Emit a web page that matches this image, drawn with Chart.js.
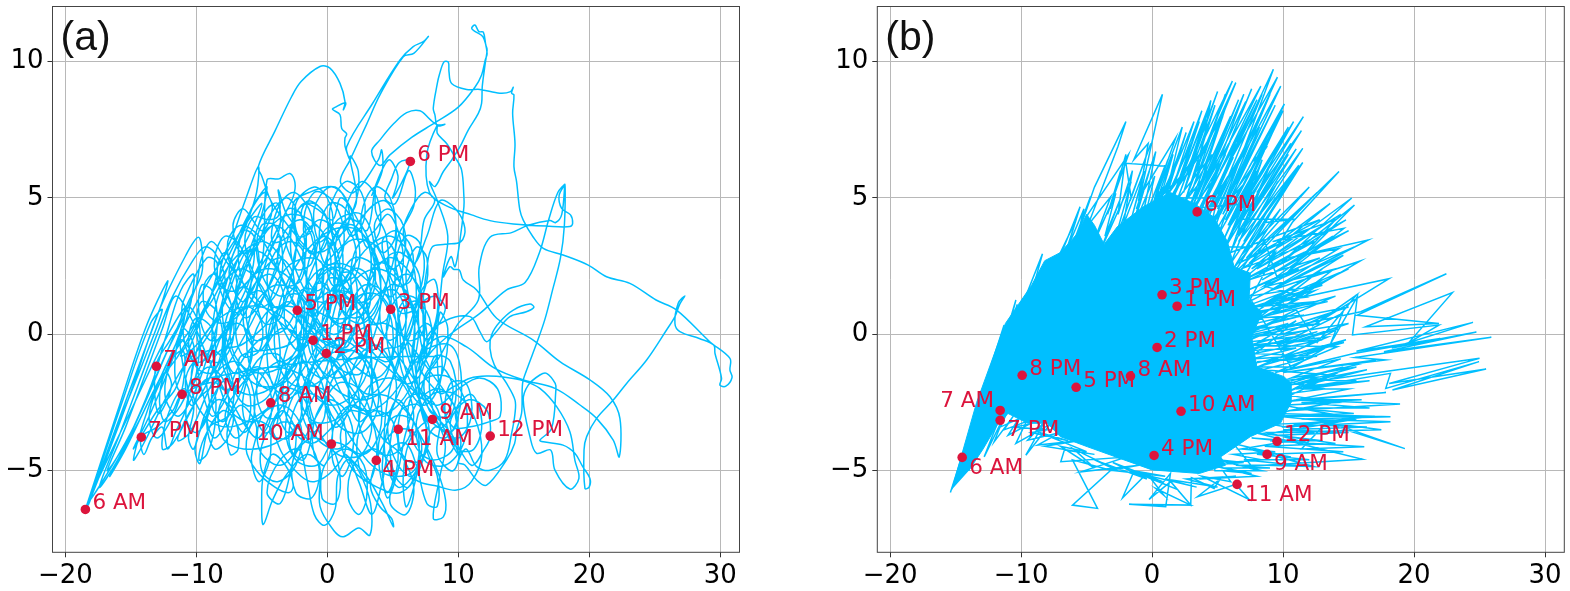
<!DOCTYPE html>
<html>
<head>
<meta charset="utf-8">
<title>Daily trajectories</title>
<script src="https://cdn.jsdelivr.net/npm/chart.js@4/dist/chart.umd.min.js"></script>
<style>
body { margin: 0; background: #fff; width: 1570px; height: 591px; overflow: hidden; }
canvas { position: absolute; top: 0; }
#panelA { left: 0; }
#panelB { left: 785px; }
</style>
</head>
<body>
<canvas id="panelA" width="785" height="591"></canvas>
<canvas id="panelB" width="785" height="591"></canvas>
<script>
const xTicks = [-20, -10, 0, 10, 20, 30];
const yTicks = [-5, 0, 5, 10];

const hoursA = ['6 AM','7 AM','8 AM','9 AM','10 AM','11 AM','12 PM','1 PM','2 PM','3 PM','4 PM','5 PM','6 PM','7 PM','8 PM'];
const hoursAx = [-18.47,-13.05,-4.32,8.02,0.31,5.42,12.44,-1.09,-0.08,4.84,3.74,-2.29,6.34,-14.2,-11.09];
const hoursAy = [-6.42,-1.17,-2.51,-3.12,-4.02,-3.48,-3.73,-0.22,-0.7,0.92,-4.62,0.88,6.34,-3.77,-2.2];

const hoursB = ['6 AM','7 AM','8 AM','9 AM','10 AM','11 AM','12 PM','1 PM','2 PM','3 PM','4 PM','5 PM','6 PM','7 PM','8 PM'];
const hoursBx = [-14.5,-11.6,-1.65,8.78,2.21,6.49,9.54,1.91,0.38,0.76,0.15,-5.8,3.44,-11.6,-9.92];
const hoursBy = [-4.51,-2.79,-1.53,-4.4,-2.82,-5.5,-3.92,1.03,-0.48,1.45,-4.44,-1.94,4.49,-3.15,-1.5];

// panel (a)
const fanA = [[-18.47,-6.42],[-16,-2.8],[-13.9,.2],[-12.2,1.95],[-12.6,1.2],[-14.2,-.9],[-16.5,-3.9],[-18.2,-6.2],[-15.6,-2.4],[-13.5,.4],[-12.6,.9],[-13.8,-.7],[-16.2,-3.6],[-18.3,-6.3],[-15.2,-2.4],[-12.9,.8],[-10.8,2.9],[-9.85,3.56],[-9.55,3],[-9.6,2.2],[-10.6,1.2],[-12.2,-.6],[-15,-3.6],[-18.2,-6.1],[-14.8,-2.6],[-12.6,-.4],[-10.8,1],[-11.6,-.4],[-13.6,-2.4],[-15.4,-4.2],[-16.6,-5.2],[-14.4,-3.2],[-12.4,-1.4],[-11.9,-1.9],[-12.9,-2.9],[-13.1,-1.17],[-12,-.2],[-11.2,.5]];
const coreA1 = [[-11,1.2],[-9.2,2.8],[-8.4,2.6],[-8.9,1.4],[-10.4,-.1],[-11.2,-.8],[-10,-.4],[-8,1],[-6.4,2.9],[-5.6,3.1],[-6,1.9],[-7.8,.2],[-9.5,-1],[-10.2,-1.9],[-9,-1.6],[-7,.1],[-5.2,1.9],[-4.2,3.3],[-3.6,3.6],[-4,2.4],[-5.4,.8],[-7.2,-.8],[-8.6,-1.8],[-9.9,-2.4],[-11,-3.3],[-11.4,-3.9],[-10.5,-3.6],[-9.3,-2.3],[-8,-.9],[-7.2,.8],[-8.2,2.2],[-7,3.9],[-6.2,5],[-5.27,6.15],[-5.4,5.2],[-6.2,4],[-7.5,2.3],[-6.4,1.2],[-5,2.6],[-4.6,5.66],[-3.7,5.7],[-2.85,5.9],[-2.47,5.56],[-2.6,5.05],[-3.36,4.3],[-4.5,3.2],[-5.8,1.9],[-6.4,.4],[-5.2,-.6],[-3.8,.6],[-2.6,2.4],[-2.4,3.8],[-3.2,4.5],[-3.74,5.29],[-3.6,4.7],[-3.8,4.3],[-4.5,4.2],[-5.6,4.3],[-6.3,3.4],[-5.4,2],[-3.6,.4],[-2.2,-.6],[-1.2,.4],[-.8,2.2],[-1.2,3.6],[-2,4.4],[-1.4,4.9],[-.2,4.4],[.6,3],[.4,1.4],[-.8,.1],[-2.6,-.9],[-4.6,-1.4],[-6.4,-1.2],[-7.4,-.2],[-7,1.4],[-5.6,3.2],[-4,4],[-2.4,3.2],[-1.4,1.6],[-1.8,-.2],[-3.4,-1.6],[-5.4,-2.2],[-7,-2],[-8,-1],[-7.4,.6],[-6.2,2.4]];
const coreA2 = [[-4.6,3.8],[-2.8,4.4],[-.8,4],[.8,2.6],[1.4,.8],[.8,-.8],[-.8,-1.8],[-2.8,-1.8],[-4,-.6],[-3.6,1.2],[-2,2.8],[.2,3.8],[2.4,3.8],[3.8,2.6],[4,.8],[2.8,-.8],[.8,-1.6],[-1,-1],[-1.6,.6],[-.4,2.4],[1.4,3.4],[3.2,4.6],[4.4,4.9],[5.2,4.2],[5,2.6],[3.6,1],[1.8,.2],[.2,.6],[-.4,2],[.6,3.6],[2.2,4.8],[1.73,6.52],[2.37,5.97],[2.2,4.9],[1,3.6],[-.6,3],[-2.2,3.4],[-2.6,4.8],[-1.4,5.2],[.6,5.4],[1.6,4.8],[3,3.8],[3.64,5.29],[3.7,4.5],[4.5,3.6],[4.6,2],[3.4,.4],[1.4,-1],[-.4,-1.6],[-2,-.8],[-2.29,.88],[-1,2.2],[1,2.6],[3,2],[4.84,.92],[5.6,-.4],[4.8,-1.8],[2.8,-2.4],[.6,-2],[-1,-.8],[-1.09,-.22],[-.08,-.7],[1.2,-1.6],[2.6,-2.8],[3.4,-1.4],[2.8,.4],[1.2,1.4],[-.6,1],[-1.8,-.6],[-2.2,-2.2],[-1,-3.2],[1,-3],[2.6,-1.6],[3.2,.6],[2,2.2],[0,2.4],[-1.6,1.2],[-3,-.4],[-4.32,-2.51],[-5.8,-3.2],[-7.4,-2.8],[-8.4,-1.6],[-8.8,0],[-8,1.8],[-6.4,2.4],[-4.6,1.4],[-3.6,-.6],[-4.4,-2.2],[-6.2,-2.6],[-7.6,-1.4],[-7.8,.4]];
const coreA3 = [[-6.6,1.6],[-4.8,2.4],[-2.8,2],[-1.8,.4],[-2.6,-1.4],[-4.6,-2],[-6,-1],[-5.8,.8],[-4,1.8],[-2,1.4],[-.8,-.2],[-1.6,-1.8],[-3.4,-2.6],[-4.4,-3.6],[-3,-3.8],[-1.6,-2.8],[-.2,-1.4],[1,.2],[2.4,1.4],[4,1.4],[5,.2],[4.6,-1.4],[3.2,-2.2],[1.6,-1.4],[.8,.4],[1.8,1.8],[3.6,2.4],[5.4,2],[6.6,.6],[6.4,-1],[5,-2.2],[3.2,-2.8],[1.4,-2.4],[.2,-.8],[.6,1],[2.4,2.8],[4.6,3.6],[6.2,3],[6.8,1.4],[6,-.4],[4.4,-1],[3,-.2],[3,1.6],[4.6,2.8],[6.4,2.2],[7.4,.6],[7,-1.2],[5.4,-2.6],[3.6,-3],[1.8,-2.8],[.4,-3.4],[-1.2,-4],[-2.8,-3.4],[-3.4,-2],[-2.4,-.6],[-.6,-.2],[1.2,-.8],[2.4,-2.2],[2.2,-3.6],[.8,-4.2],[-.8,-3.8],[-1.6,-2.4],[-.8,-.8],[1,-.2],[2.8,-.8],[4,-2.2],[4,-3.6],[2.8,-4.4],[1,-4],[.31,-4.02],[-.8,-4.8],[-2.4,-4.6],[-3.2,-3.4],[-2.2,-2],[-.4,-2],[1,-2.8],[1.4,-4.2],[.4,-5],[-1,-5.4],[-2,-5.2],[-3.4,-4.4],[-4.4,-3.4],[-5.6,-3.2],[-6.2,-4.2],[-5.4,-5],[-4,-5.6],[-2.9,-5.8],[-2.6,-5.5],[-3.2,-4.8],[-4.2,-4.4],[-4.89,-5.2],[-5.01,-6.2],[-4.89,-6.97],[-4.2,-6.1],[-3.2,-5.2],[-1.6,-4.4],[-.6,-4.8],[-.56,-6.3],[.46,-7.17],[1.22,-7.42],[2.4,-7.1],[3.25,-7.36],[3.3,-6.2],[2.4,-5],[1.4,-4.4]];
const coreA4 = [[3,-5.2],[4.2,-6.2],[5.04,-7.05],[4.91,-6.75],[4.02,-6.32],[3.3,-5.6],[3.74,-4.62],[4.6,-3.8],[5.42,-3.48],[6.6,-3.6],[7,-4.6],[6.06,-6.32],[5.8,-5.2],[6.4,-3.8],[8.02,-3.12],[9,-4],[8.6,-5.2],[8.09,-6.75],[8.86,-6.69],[9.03,-6.08],[8.4,-5],[7,-3.6],[5.4,-2.4],[4.6,-3.4],[5.4,-4.8],[7,-5.4],[8.35,-5.56],[9.87,-5.71],[11,-5.4],[11.8,-4.4],[11.2,-3],[9.8,-2.2],[8,-2.2],[6.8,-3.2],[7.4,-4.6],[9,-4.8],[10.4,-4],[10.6,-2.6],[9.4,-1.6],[7.6,-1.6],[6.2,-2.6],[6.6,-4],[8,-4.6],[9.6,-4.2],[9.8,-2.8],[8.6,-2],[7,-2.4],[6,-3.6],[5.4,-5],[4.6,-6],[4.2,-4.8],[4.8,-3],[6,-1.6],[7.4,-.6],[9.4,-.4],[10.2,-1.4],[10,-3],[9,-3.8],[7.6,-3.4],[7,-2],[7.6,-.4],[9,.9],[8.2,1.4],[7,1],[6.6,-.4],[7,-2.2],[7.6,-3.8],[6.8,-5],[5.4,-5.6],[4.4,-4.4],[4.6,-2.4],[5.6,-.6],[6.6,.8],[7.4,2.4],[7,3.4],[6,3.6],[5.2,2.6],[5.4,.8],[6.4,-1.2],[7.6,-2.6],[9.4,-3.6],[11,-4.8],[12,-4.2],[12.44,-3.73],[12.2,-2.8],[10.8,-2.4],[9.4,-3.2],[10,-4.4],[8.4,-3],[6,-1.2],[3,.8],[.4,2.2],[-2,3.4],[-4.2,4.8],[-5,5.8]];
const peakA = [[-5.27,6.15],[-4,7.45],[-2.72,8.72],[-2,9.27],[-.56,9.82],[.2,9.76],[.97,9.2],[1.35,8.53],[1.22,8.23],[1.4,8.49],[.58,8.32],[.4,8.25],[.97,8.05],[1.1,7.55],[1.48,7.35],[1.35,7.2],[1.35,6.9],[1.73,6.39],[1.48,6.88],[3.5,8.5],[5.55,10.06],[6.56,10.55],[7.33,10.73],[7.71,10.92],[6.6,10.3],[5.8,10.18],[4.02,8.78],[3,7.7],[1.73,6.39],[1,5.6],[2,5.2],[3.9,6.4],[4.15,6.76],[4.2,6],[3.4,5.1],[4.66,6.39],[5.4,5.8],[5,5],[6.34,6.34]];
const rightA1 = [[5.5,6.3],[4.9,5.7],[4.4,5],[5.2,4.8],[6.2,6],[6.7,5.4],[6.6,4.7],[6.1,4.2],[5.4,3.6],[5.2,2.6],[5.8,1.8],[7,3],[7.4,4.2],[8.2,4.9],[7.4,5.2],[6.4,4.6],[5.8,3.7],[6.6,2.6],[7.6,3.6],[8.6,4.9],[9.8,4.6],[10.5,3.9],[10.2,3.4],[9,3.3],[8,3.2],[7.6,2.4],[7.3,1],[7.6,-.8],[8.4,.6],[8.8,2.2],[9.2,3.6],[8.4,4.9],[7.8,5.6],[8.22,5.42],[8.86,5.97],[9.49,6.39],[10.13,6.88],[10.76,7.49],[11.53,8.1],[11.78,8.47],[11.83,9.08],[12.06,9.94],[12.2,10.43],[12.1,10.61],[11.91,11.08],[11.58,11.1],[11.27,11.34],[11.02,11.22],[11.3,11.1],[11.9,10.9],[12.2,10.3],[12.06,10.06],[11.78,9.51],[11.27,9.06],[10,8.33],[8.22,7.76],[6.44,7.22],[4.78,6.58],[4.02,6.19],[3.38,6.7],[4.02,7.13],[5.04,7.71],[6.06,8.13],[7.07,8.2],[7.84,7.88],[8.4,7.68],[8.98,7.7],[8.4,7.65],[8.22,8.04],[8.09,8.29],[8.4,9.2],[8.55,9.51],[8.91,9.99],[9.24,9.98],[9.29,9.63],[9.49,9.2],[10.64,8.98],[11.65,8.98],[13.18,8.84],[13.99,8.9],[14.2,9.06],[14.07,8.84],[14.25,8.78],[14.15,8.1],[14.33,7],[14.25,6.15],[14.45,5.6],[14.7,4.56],[14.96,4.19],[15.7,3.58],[16.49,3.15],[18,2.91],[19.92,2.54],[21.32,2.11],[23.1,1.87],[25.1,1.26],[26.67,.89],[29.2,-.27],[30.74,-.88],[30.74,-1.31],[30.9,-1.58],[30.43,-1.9],[29.97,-1.86],[30.1,-1.61],[29.6,-.7],[29.5,-.39],[28.4,-.15],[26.92,.1],[26.54,.4],[26.79,1.14],[27.3,1.41],[26.9,1.1],[26.54,.65],[25.9,.16],[24.38,-.94],[22.85,-1.8],[21.83,-2.41],[20.56,-3.08],[19.8,-3.75],[19.6,-4.24],[19.67,-5.65],[20,-5.59],[20.05,-5.28],[19.5,-4.85],[18.9,-4.36],[18,-4.06],[16.49,-3.94],[16.23,-3.88],[17.12,-3.45],[17.45,-2.04],[17.4,-1.8],[16.74,-1.43],[16.23,-1.49],[15.34,-1.86],[14.96,-2.41],[15.47,-3.75],[15.98,-4.36],[17.05,-4.24],[17.38,-4.98],[18.52,-5.67],[19.21,-5.28],[18.9,-4.61],[18.52,-3.57],[17.51,-2.65],[16.23,-1.98],[14.96,-1.7],[13.69,-1.58],[12.16,-1.53],[10.9,-1.61],[9.62,-1.92],[8.6,-2.16]];
const rightA2 = [[7,-1],[8.6,-.09],[10.6,-.45],[12.8,-1.25],[14.96,-1.67],[17.38,-1.98],[19.29,-2.59],[20.56,-3.08],[21.83,-3.88],[22.29,-4.49],[22.34,-3.08],[21.58,-2.29],[20.05,-1.67],[17.76,-1],[15.72,-.21],[12.93,.59],[11.4,1.63],[10.38,1.99],[10.08,2.36],[9.67,2.38],[9.36,2.48],[8.86,2.11],[9.44,2.85],[9.75,2.48],[10.13,3.46],[10.43,4.68],[10.43,5.05],[10.25,6.03],[9.75,6.5],[9.11,7],[8.4,7.37],[8.4,7.68],[7.6,6.6],[7.8,5.2],[9.1,4.71],[11.02,4.38],[12.42,4.17],[14.2,4.05],[16.74,3.97],[18.52,3.95],[18.73,4.07],[18.57,4.38],[17.89,4.62],[17.7,5.1],[18.14,5.5],[17.6,5.2],[16.9,4.2],[16.2,3],[15.1,1.9],[13.69,1.63],[11.65,.77],[9.49,.04],[8,-.6],[6.8,-1.4],[7.6,-.1],[9,.5],[10.9,.65],[11.65,.1],[12.16,-.27],[12.8,.04],[13.94,.65],[15.2,.83],[15.77,.99],[15.47,1.11],[14.2,.89],[13.18,.46],[12.54,-.02],[12.42,-.51],[12.75,-1.12],[13.69,-1.8],[14.33,-2.41],[14.33,-2.9],[14.07,-3.63],[13.56,-4.6],[12.42,-4.98],[11.4,-4.85],[10.6,-4.2],[10,-4.7],[10.5,-4.79],[11.4,-5.34],[12.16,-5.53],[13.69,-4.6],[14.3,-4],[14.45,-3.5],[14.83,-2.9],[14.91,-1.8],[15.22,-1.31],[15.98,-.33],[16.6,.53],[17.2,1.63],[17.8,2.8],[18.1,4],[18.14,5.5],[17.9,4.4],[17.43,4.1],[16.99,4.17],[15.34,4],[14.07,3.73],[12.42,3.56],[11.6,2.48],[11.53,1.26],[10,.4],[8.6,-.8],[7.2,-2],[8.4,-2.6],[10,-2],[11.6,-1.6],[13,-2],[13.2,-3],[12.4,-3.2],[10.8,-3.4],[9.6,-3.4],[8.8,-2.6],[8.4,-1],[8.6,.8],[9.2,.2],[8.8,-1.4]];
const tailA = [[7.4,-2.4],[5.8,-1],[6,.6],[5.2,1.6],[3.6,1.4],[1.8,0],[.4,-1],[-1,-.4],[-2.4,.6],[-4,1],[-5.4,.2],[-6.2,-1.6],[-7.6,-3],[-9,-3.4],[-9.72,-4.73],[-10.1,-4.24],[-9.6,-3.4],[-8.4,-2.4],[-7.2,-2.8],[-7.6,-3.8],[-8.6,-4.2],[-9.2,-3.2],[-8.4,-1.8],[-11.09,-2.2],[-11.8,-2.8],[-13,-3.4],[-14.2,-3.77],[-14,-4.4],[-13.4,-3.8],[-12.6,-3.4],[-12.2,-4.2],[-11.6,-3.6],[-10.6,-2.4],[-11,-1.2],[-11.2,-.2],[-10.2,-.8],[-9.6,-2],[-8.8,-3],[-7.8,-2.4],[-6.8,-1.2],[-5.2,-.2],[-3.2,.2],[-1.8,1.6],[-.6,3],[.8,4.2],[2.6,4.4],[3.6,3.2],[3.2,1.4],[1.4,.6],[-.6,.8],[-2.4,1.8],[-3.8,3],[-5,3.4],[-6.8,2.8],[-8,1.2],[-7.4,-.6],[-5.6,-1.8],[-3.6,-1.8],[-2,-.6],[-.6,.8],[1,1.6],[2.8,1],[3.4,-.6],[2.4,-2],[.4,-2.6],[-1.4,-2],[-2.2,-.6],[-1.2,1],[.8,1.6],[2.8,.4],[2.6,-1.4],[.8,-1.2],[-.4,.2],[.6,1.8],[2.2,1.2],[1.6,-.4],[0,-.4]];
const denseA1 = [[-1.6,.4],[-3,1.6],[-4.2,2.8],[-5.2,3.6],[-6.6,4],[-7.6,3.4],[-7.2,2.4],[-6,2.6],[-5.4,3.8],[-4.6,4.6],[-3.8,4.8],[-3.6,4],[-4.4,3],[-5.6,2.2],[-7,1.6],[-8.2,1.8],[-8.6,2.8],[-7.8,3.6],[-6.6,3.2],[-5.8,2],[-6.6,.8],[-8,.4],[-9.2,.8],[-9.4,1.8],[-8.6,2.2],[-7.4,1.2],[-7.2,-.2],[-8.2,-1],[-9.4,-.8],[-10,.2],[-9.6,1.2],[-8.4,.8],[-8,-.4],[-8.8,-1.4],[-10,-1.2],[-10.6,-.2],[-10,.6],[-8.8,.2],[-8.6,-1],[-9.4,-2],[-10.4,-2.6],[-10.8,-1.6],[-9.8,-.8],[-8.6,-.6],[-7.4,-1.4],[-7.2,-2.6],[-8,-3.2],[-8.8,-2.6],[-8.4,-1.4],[-7,-1],[-5.8,-1.8],[-5.6,-3],[-6.4,-3.6],[-7.2,-2.8],[-6.6,-1.6],[-5.2,-1.2],[-4,-2],[-3.8,-3.2],[-4.8,-3.6],[-5.6,-2.6],[-4.8,-1.4],[-3.4,-1],[-2.2,-1.8],[-2,-3],[-3,-3.6],[-3.8,-2.6],[-3,-1.4],[-1.6,-1],[-.4,-1.8],[-.2,-3],[-1.2,-3.6],[-2,-2.6],[-1.2,-1.2],[.2,-.8],[1.4,-1.6],[1.6,-2.8],[.6,-3.4],[-.2,-2.4],[.6,-1],[2,-.6],[3.2,-1.4],[3.4,-2.6],[2.4,-3.2],[1.6,-2.2],[2.4,-.8],[3.8,-.4],[5,-1.2],[5.2,-2.4],[4.2,-3],[3.4,-2],[4.2,-.6],[5.6,-.4]];
const denseA2 = [[6.6,.6],[6,1.6],[4.8,1.8],[4,.8],[4.6,-.2],[5.8,.2],[6,1.2],[5,2.4],[3.8,2.6],[3,1.6],[3.4,.4],[4.6,.6],[4.8,1.8],[3.8,3.2],[2.6,3.4],[1.8,2.4],[2.2,1.2],[3.4,1.4],[3.6,2.6],[2.6,4],[1.4,4.2],[.6,3.2],[1,2],[2.2,2.2],[2.4,3.4],[1.4,4.6],[.2,4.8],[-.6,3.8],[-.2,2.6],[1,2.8],[1.2,4],[.2,5],[-1,5.2],[-1.8,4.2],[-1.4,3],[-.2,3.2],[0,4.2],[-1,4.8],[-2.2,4.6],[-2.8,3.6],[-2.4,2.4],[-1.2,2.6],[-1,3.6],[-2,4.2],[-3.2,3.8],[-3.8,2.8],[-3.2,1.8],[-2,2],[-1.8,3],[-2.8,3.4],[-4,3],[-4.6,2],[-4,1],[-2.8,1.2],[-2.6,2.2],[-3.6,2.8],[-4.8,2.4],[-5.4,1.4],[-4.8,.4],[-3.6,.6],[-3.4,1.6],[-4.4,2.2],[-5.6,1.8],[-6.2,.8],[-5.6,-.2],[-4.4,0],[-4.2,1],[-5.2,1.6],[-6.4,1.2],[-7,.2],[-6.4,-.8],[-5.2,-.6],[-5,.4],[-6,1],[-7.2,.6],[-7.8,-.4],[-7.2,-1.4],[-6,-1.2],[-5.8,-.2],[-6.8,.4],[-8,0],[-8.6,-1],[-8,-2],[-6.8,-1.8],[-6.6,-.8],[-3,-.4],[-1.8,.4],[-2,1.4],[-3,1.4],[-3.2,.4],[-2,-.2],[-.8,.6],[-1,1.6],[-2,1.6],[-2.2,.6],[-1,0],[.2,.8],[0,1.8],[-1,1.8],[-1.2,.8],[0,.2],[1.2,1],[1,2],[0,2],[-.2,1],[1,.4],[2.2,1.2],[2,2.2],[1,2.2],[.8,1.2],[2,.6],[3.2,1],[3,2.2],[2,2.4]];
const denseA3 = [[.6,1.4],[-1,-.6],[-3,-2],[-5.4,-3],[-7.6,-3.4],[-9.4,-3],[-10.4,-1.8],[-9.6,-.2],[-7.6,.8],[-5,1],[-2.6,.2],[-1.4,-1.6],[-2,-3.2],[-4,-4],[-6.4,-4.2],[-8,-3.8],[-8.2,-2.6],[-6.6,-1.6],[-4,-1.2],[-1.6,-1.6],[.4,-2.6],[1.8,-3.8],[3.4,-4.8],[5,-5.2],[6.6,-5],[7.2,-4],[6,-2.8],[4,-2.2],[2,-2.6],[1,-3.8],[2,-5],[3.8,-5.6],[5.6,-5.8],[7,-5],[7.6,-3.6],[6.8,-2.2],[4.8,-1.6],[3,-2],[2.4,-3.2],[3.4,-4.2],[5,-4.4],[6.4,-3.6],[6.4,-2.4],[5,-1.4],[3,-.8],[1,-1.2],[0,-2.4],[1,-3.4],[2.6,-3.6],[3.8,-2.8],[3.6,-1.4],[2,-.6],[0,-.8],[-1.4,-2],[-.8,-3.4],[.8,-4.4],[2.6,-4.4],[3.4,-3.2],[2.4,-2],[.8,-1.8],[-.6,-2.8],[-2,-4],[-3.6,-4.8],[-5.2,-4.2],[-5,-3],[-3.4,-2.6],[-2,-3.4],[-2.4,-4.8],[-3.8,-5.4],[-5,-5],[-4.8,-3.8],[-3.2,-3.2],[-1.6,-3.8],[-.6,-5],[-1.2,-6],[-2.4,-5.8],[-2.6,-4.6],[-1.2,-3.8],[.4,-4.2],[1,-5.4],[.6,-6.2],[-.4,-6],[-.2,-4.8],[1.4,-4.2],[2.8,-4.8],[3,-6],[2.4,-6.6],[1.6,-6],[2,-4.8],[3.6,-4.2],[5,-5],[4.8,-6.2],[6,-6.6],[6.6,-5.6],[5.6,-4.4],[4.2,-3.8],[3,-2.8]];
const denseA4 = [[-.4,-.6],[-3,.2],[-5.6,1.4],[-7.6,2.6],[-8.8,3.4],[-9.6,2.8],[-10,1.8],[-11,.6],[-12.4,-.8],[-14.2,-2.8],[-16,-4.6],[-17.4,-5.6],[-15.8,-3.6],[-14.4,-1.8],[-13,0],[-11.8,1.4],[-10.4,2.6],[-9.4,3.2],[-8.6,3],[-7.8,2],[-8.4,.6],[-9.6,-.4],[-11,-1.2],[-12.4,-2.4],[-13.8,-3.8],[-14.8,-4.6],[-13.6,-2.6],[-12,-.8],[-10.6,.6],[-9,2],[-7.4,3.2],[-6,4.2],[-5,4.8],[-5.6,4],[-6.8,2.8],[-8,1],[-9,-.6],[-10.2,-2.2],[-11.4,-3],[-12.4,-2.2],[-11.8,-.8],[-10.4,.2],[-8.6,1.4],[-6.8,3.4],[-5.8,4.6],[-5,5.2],[-4.6,5.4],[-5,4.4],[-6,3],[-7,1.6],[-6.2,.6],[-4.4,1.8],[-3.2,3.2],[-2.6,4.2],[-1.8,4.8],[-.8,4.6],[.4,4.2],[1,5],[1.8,4.6],[2.4,3.4],[3.6,3.8],[4.6,4.4],[5.4,3.8],[5.8,2.6],[5,1.4],[3.8,1.8],[3.4,3],[4.6,3.4],[5.6,2.4],[6.2,1],[7.4,1.6],[7.6,2.8],[6.8,3.2],[6,2.2],[6.6,.8],[7.6,-.2],[8.4,.8],[8.2,2],[7.2,1.6],[7,.2],[7.8,-1.2],[8.8,-1.2],[9.6,-2],[9,-3],[7.8,-2.8],[7.4,-1.6],[8.2,-.8]];
const denseA5 = [[-9,-1.6],[-10.4,-2.8],[-11.8,-4],[-12.6,-4.2],[-12.2,-3],[-11,-2],[-10.2,-2.6],[-10.6,-3.8],[-10.2,-4.2],[-9.4,-3],[-8.6,-2.2],[-8.6,-3.4],[-9.2,-4.4],[-9.8,-4.6],[-9.4,-3.8],[-8,-2.8],[-7,-3.2],[-6.8,-4.2],[-7.4,-4.4],[-7.6,-3.4],[-6.6,-2.6],[-5.4,-3.4],[-5.8,-4.6],[-5.2,-5.4],[-4.4,-4.6],[-4.2,-3.4],[-3.4,-2.8],[-2.4,-3.6],[-2.8,-5],[-3.6,-6.2],[-4.6,-5.8],[-3.6,-4.6],[-2.2,-4.2],[-1.6,-5.2],[-1,-6.6],[-.2,-7],[.6,-6.4],[.8,-5.2],[1.6,-4.6],[2.4,-5.4],[3.4,-6.6],[4.2,-5.4],[4.8,-4.2],[6,-4],[6.8,-4.8],[7.6,-6.2],[8.4,-6.3],[8.4,-5.2],[7.6,-4.2],[8.2,-3.4],[9.4,-3.6],[10,-3],[9.4,-2.4]];
const denseA6 = [[7.6,-1.2],[6,-.2],[4.4,.4],[2.6,.2],[1,-.4],[-.4,0],[-1.2,1],[-.6,2],[.6,2.4],[1.8,1.6],[1.6,.4],[.4,0],[-.8,.6],[-1.6,1.8],[-1.2,3],[-.2,3.6],[.8,3],[.8,1.8],[-.2,1.2],[-1.4,1.4],[-2.6,2.6],[-3.4,3.8],[-3,4.6],[-2,4.4],[-1.6,3.2],[-2.2,2],[-3.4,1.4],[-4.6,1.8],[-5.4,3],[-5,4],[-4,4],[-3.4,2.8],[-3.8,1.6],[-5,1],[-6.2,1.6],[-6.8,2.8],[-6.4,3.8],[-5.6,3.6],[-5.2,2.4],[-5.8,1.2],[-7,.8],[-8,1.4],[-8.4,2.4],[-7.8,3],[-7,2.2],[-7,1],[-7.8,0],[-9,-.2],[-9.8,.8],[-9.6,1.8],[-8.8,1.6],[-8.4,.4],[-9,-.8],[-10.2,-1],[-11,0],[-10.6,1],[-9.8,.4],[-9.8,-.8],[-10.4,-2],[-11.4,-2],[-11.6,-.8],[-11,.2],[-10.2,-.4],[-10.4,-1.6],[-11.2,-2.6],[-12.4,-3.2],[-12.8,-2.2],[-12,-1],[-11,-.6],[-11,-1.8],[-11.8,-3],[-13,-3.8],[-13.6,-3],[-12.6,-1.6],[-11.4,-.8],[-9.8,.6],[-8.2,2],[-6.6,3],[-5,3],[-3.6,2.2],[-2.4,1],[-1,.2],[.6,-.4],[2.2,-1.2],[3.8,-1.6],[5,-.8],[5.2,.6],[4.2,1.6],[2.8,1.8],[1.8,1],[2,-.2],[3.4,-.6],[4.6,.2],[4.6,1.6],[3.4,2.6],[2,2.8],[1,2],[1.2,.8],[2.6,.4],[3.8,1],[4,2.4],[3,3.4],[1.6,3.4],[.6,2.6],[.8,1.4],[2.2,1.2],[3.2,2],[3.2,3.2],[2,4],[.8,3.8],[0,2.8],[.4,1.8],[1.6,2],[2.2,3],[1.4,4],[.2,4],[-.8,3.2],[-.6,2],[.4,1.6],[1.2,2.6],[.6,3.8],[-.6,4.2],[-1.6,3.6],[-1.8,2.4],[-.8,1.6],[.2,2.2],[0,3.4],[-1,4],[-2.2,3.4],[-2.6,2.2],[-1.8,1.2],[-.6,1.4],[-.4,2.6]];
const denseA7 = [[-1.6,2.8],[-3.2,2.4],[-4.4,1.2],[-4.6,-.2],[-3.6,-1],[-2.4,-.6],[-2,.6],[-3,1.2],[-4.2,.6],[-4.6,-.8],[-4,-2],[-2.8,-2.2],[-2,-1.2],[-2.4,0],[-3.6,.2],[-4.8,-.6],[-5.4,-2],[-4.8,-3],[-3.6,-3],[-3,-2],[-3.6,-.8],[-5,-.8],[-6.2,-1.8],[-6.4,-3],[-5.4,-3.8],[-4.4,-3.2],[-4.4,-2],[-5.4,-1.4],[-6.8,-2],[-7.8,-3],[-7,-3.8],[-6,-3.2],[-6,-2],[-7,-1.4],[-8.4,-2],[-9.2,-3],[-8.6,-3.8],[-7.6,-3],[-7.8,-1.8],[-9,-1.2],[-10.2,-1.8],[-10.8,-3],[-10,-3.6],[-9,-2.8],[-9.2,-1.6],[-8.2,-.6],[-6.6,-.4],[-5,.2],[-3.4,1],[-1.6,.8],[0,0],[1.4,-.6],[3,-.2],[4.4,-.8],[5.8,-1.6],[6.8,-.6],[6.8,.8],[5.6,1.4],[4.6,.6],[4.8,-.8],[6,-1.8],[7.2,-1.4],[7.6,0],[6.8,1.2],[5.6,.8],[5.4,-.6],[6.2,-2],[7.4,-2.6],[8.6,-1.8],[8.6,-.4],[7.6,.4],[6.6,-.2],[6.6,-1.6],[7.6,-3],[8.8,-3.4],[9.8,-2.4],[9.4,-1],[8.2,-.8],[7.8,-2],[8.6,-3.4],[10,-3.8],[11,-3],[10.6,-1.8],[9.4,-1.8],[9,-3],[10,-4.2],[11.2,-4.2],[11.8,-3.2],[11,-2.2],[9.8,-2.8],[10.2,-4],[9.6,-5],[8.4,-4.4],[8.6,-3],[7.4,-2.2],[6,-2.4],[5.4,-3.6],[6,-4.6],[7.2,-4.6],[7.8,-3.6],[7,-2.6],[5.6,-2.8],[4.8,-4],[5.2,-5.2],[6.2,-5.6],[7,-4.4],[6.6,-3.2],[5.2,-3],[4,-3.8],[4,-5],[4.6,-5.8],[5.4,-4.6],[5,-3.2],[3.6,-2.8],[2.4,-3.6],[2.4,-4.8],[3.2,-5.4],[3.8,-4.2],[3.2,-3],[1.8,-2.6],[.6,-3.2],[.4,-4.6],[1.2,-5.2],[2,-4],[1.4,-2.8],[0,-2.4],[-1,-3.2],[-1,-4.4],[-.2,-4.8],[.4,-3.6],[-.4,-2.4],[-1.8,-2.2],[-2.8,-3.2],[-2.8,-4.2],[-1.8,-4.6],[-1.2,-3.4],[-2,-2.2],[-3.4,-2],[-4.4,-3]];
const denseA8 = [[-5.4,-3.8],[-7.4,-2.4],[-9,-1],[-10.4,.6],[-11.6,1.4],[-12.6,.2],[-14,-1.6],[-15.4,-3.4],[-16.8,-5],[-15.2,-3.8],[-13.4,-1.8],[-12.4,-.2],[-11.2,1.6],[-10.2,2.2],[-10.6,.8],[-12.2,-1.4],[-13.6,-3],[-14.8,-4.2],[-13,-2.8],[-11.6,-2],[-10.6,-.6],[-9.4,.8],[-8,2.4],[-7,3.4]];
const denseA9 = [[-6,4.4],[-4.8,5.2],[-4.2,4.6],[-5,3.8],[-6.4,4.6],[-7.2,4],[-6.6,3],[-5.4,3.2],[-4.6,4.2],[-3.2,5],[-2.4,4.6],[-3,3.6],[-4.2,3.4],[-3.8,4.6],[-2.6,5.2],[-1.4,4.6],[-1.2,3.8],[-2.2,3.6],[-2.4,4.8],[-1,5.4],[0,5],[.4,4],[-.6,3.4],[-1,4.6],[.2,5.4],[1.4,5],[1.6,4],[.6,3.6],[.2,4.6],[1.4,5.6],[2.6,5.2],[2.8,4.2],[1.8,3.6],[1.4,4.6],[2.6,5.6],[3.8,5],[4,3.8],[3,3.2],[2.6,4.4],[3.6,5.4],[4.8,5],[5.2,3.6],[4.2,3],[3.6,4],[4.6,4.6],[5.8,4],[5.8,2.8],[4.8,2.4],[4.2,3.4],[5.2,3.8],[6.4,3.2],[6.4,2],[5.2,1.8],[4.6,2.8],[5.6,3],[7,2.2],[6.8,1],[5.6,.8],[5,1.8],[6.2,2.2],[7.4,1.2],[7.2,0],[6,-.2],[5.4,.8],[6.4,1.4],[7.8,.6],[7.8,-.6],[6.6,-1],[6,0]];

// panel (b): the solid mass, then its strokes from the left edge round to the bottom
const massB = [[-15.3,-5.7],[-13.4,-2.5],[-11.2,.4],[-10.2,1.1],[-9.2,1.8],[-8.2,2.7],[-7,3],[-5.7,3.7],[-5,4.4],[-4.4,4],[-3.66,3.3],[-2.65,3.95],[-.6,4.7],[1.4,5.2],[3.2,4.8],[4.7,4.3],[5.75,3.4],[6.26,2.48],[7.5,2.24],[7.4,1.26],[8.4,.8],[7.6,-.09],[8,-1.19],[10.07,-1.55],[10.6,-1.8],[10.6,-2.5],[9.8,-3.26],[7.5,-3.75],[5.24,-4.49],[5.6,-4.8],[3.6,-5.1],[0,-4.97],[-4.94,-4.12],[-7,-3.75],[-8,-3.26],[-9.5,-3.26],[-11,-2.9],[-11.8,-3.3],[-12.9,-4.2],[-14,-5]];
const fanB1 = [[-15.4,-5.8],[-11.3,.34],[-13,-3],[-10.4,1.26],[-11.5,-.8],[-10.3,1.1],[-11.2,-.5],[-8.37,2.95],[-9.6,.8],[-8,2.54],[-9,.8],[-7.6,2.2],[-8.4,1.2],[-5.5,4.68],[-7.4,1.7],[-6.6,2.6],[-4.7,5.05],[-6.3,2.8],[-4.4,5.4],[-2,7.8],[-2.6,6.9],[-4.9,4],[-3.15,5.05],[-4.6,3.2],[-2.77,5.17],[-3.6,3.6],[-2.4,5],[-4,3],[-1.6,5.6],[-3,3.2],[-.1,7],[-1.6,5],[-2,6.27],[1.04,6.17],[-.9,3.9],[.28,6.7],[-1.2,4.6],[-.2,6],[-1.4,4],[.79,8.8],[-1.4,6.4],[-.3,7],[-1,5],[1.8,7.2],[.2,5],[1.2,6.4],[-.2,4.4],[2.3,7.6],[.9,4.8],[3,7],[1,4.2],[4.5,8.57],[2.1,5.6],[3.6,7.8],[1.6,5],[3.2,6.6],[1.2,4],[5,8.9],[3,6.2],[6.13,9.29],[3.2,5.9],[6.39,9.23],[3.4,5.7],[4.48,8.57],[2.6,5.8],[5.4,8],[2.8,4.6],[6,8],[3.4,4.8],[7.15,8.53],[4,5.4],[8.3,9.1],[5.2,6],[7,7.6],[4.2,4.4],[6.2,6.5],[3.2,3.8],[5.8,5.8],[3.8,3.8],[6.8,5.4],[4.4,3.4]];
const fanB2 = [[9.26,9.72],[6,6.4],[9.57,9.43],[6.2,5.9],[9.82,9.1],[6.4,5.6],[8.2,7.6],[5.4,4.6],[8.8,6.9],[7.6,6.3],[10.1,8.45],[6.8,5],[9.2,7.4],[6,4],[11.55,7.98],[8,5.2],[11.4,7.47],[7.6,4.5],[10.4,6.6],[6.6,3.6],[11.5,6.82],[8,4.2],[9.6,5.6],[7,3.4],[11.5,6.3],[8.6,4.1],[10.92,4.22],[6.9,4.22],[8.4,5.4],[5.6,3.2],[7.6,3.2],[9,4.4],[6.2,2.2],[14.27,5.97],[10.7,4.1],[9,2.8],[15.24,5],[9.8,2.6],[15.45,4.74],[10.2,2.2],[14,4.2],[9.2,3.4],[14.65,3.89],[9.6,2],[8.6,3.4],[6.9,2],[9.4,3],[7.4,1.2],[16.5,3.46],[10.4,2.8],[14.27,3.15],[9,1.6],[15.9,2.69],[10.6,1.2],[13.84,2.38],[8.68,1.75],[11.74,1.36],[8.8,1.2],[13,2.4],[7.6,.4],[12.4,1.6],[7,.9],[18.09,2.04],[12.2,.3],[15.6,1.44],[12.6,-.3],[11,.9],[6.8,-.1],[15.93,.83],[22.47,2.22],[15.65,.7],[21.9,.4],[16.3,.28],[22.93,1.53],[19.6,-.3],[21.9,.34],[15.3,-.02],[15.67,1.38],[13.64,-.33],[14.53,.77],[9.6,-.4],[12.62,.1],[7,-.6],[11,.5],[6.6,-1.2],[14.65,-.3],[8,-1.2],[13.4,-.1],[7.6,-.4],[14.15,-.45],[9.4,-1.4]];
const fanB3 = [[15.4,-.7],[22,-.15],[15.6,-.62],[24.5,.44],[18.3,-.5],[24.76,.09],[17.7,-.64],[25.9,-.11],[15.5,-.85],[17.84,-.94],[10,-1.4],[17.07,-.94],[10.6,-1.7],[14.6,-1.2],[9.8,-1.9],[25,-.88],[18.1,-1.8],[25.5,-1.27],[18.35,-2.04],[24.96,-1],[17.84,-1.98],[18.2,-1.43],[11,-2],[15.6,-1.7],[12.1,-1.67],[10.4,-2.1],[14.2,-1.4],[9.4,-2.5],[17.86,-2.13],[11,-2.4],[18.93,-2.55],[10.4,-2.8],[15,-2.4],[9.4,-2.9],[18.2,-3.02],[11.4,-3.1],[18.2,-3.2],[9.9,-3.4],[15.6,-3.1],[9.4,-3.6],[17.5,-3.5],[12.8,-3.2],[19.3,-4.19],[13.4,-3.2],[11.4,-4.2],[16.2,-4.12],[9,-3.9],[13,-3.9],[7.8,-3.6],[16.06,-4.58],[8.6,-4.8],[12.37,-4.85],[7.4,-4.2],[10.6,-4.5],[6.2,-4],[7.8,-4.95],[5,-4.6],[7,-4.7],[4.4,-4.8],[7.6,-5.1],[5.4,-5],[6,-5.4],[3.8,-5.2]];
const fanB4 = [[7.4,-6.05],[6.4,-5.5],[3.46,-5.95],[5.2,-5.3],[4.73,-5.65],[3,-5.25],[2.95,-6.26],[1.42,-5.4],[-.23,-6.05],[1.4,-5.1],[1.04,-6.32],[-1.76,-6.23],[2.95,-6.26],[.28,-5.65],[.9,-5.9],[-.4,-5.1],[-2.26,-6],[-1.37,-5],[1,-5.2],[-3.15,-4.98],[-6.08,-4.6],[-4.17,-6.38],[-6.08,-6.26],[-3.15,-4.98],[-1,-4.8],[-5.45,-5.04],[-2,-4.5],[-6.97,-4.67],[-6.7,-4.24],[-4.4,-4.4],[-8.2,-4.1],[-5.6,-3.9],[-8.75,-4.06],[-7,-3.6],[-9.5,-3.88],[-8.2,-3.2],[-9.64,-4.43],[-7.8,-3.3],[-10.4,-4],[-9.6,-3.2],[-11.3,-3.5],[-10.6,-3],[-12.06,-3.94],[-11.2,-2.9],[-12.82,-4.49],[-11.6,-3],[-12,-2.6],[-13,-3.2],[-14,-5],[-12.8,-2.6],[-15.1,-5.5]];
const fanB5 = [[-7,3],[-5.8,4.2],[-6.6,3],[-5.2,4.6],[-6,3],[-4.9,4.4],[-1.8,6.6],[-3.4,4.4],[-2.4,6],[-3.2,4.6],[-2,6.6],[-2.6,4.4],[-1.5,6],[-2.2,4],[-.6,6],[-1.6,4.2],[-.8,5.6],[-1.2,4.2],[.2,5.8],[-.6,4.2],[1,6.2],[0,4.4],[1.6,6.6],[.4,4.6],[2.2,6.8],[.8,4.6],[2.6,7.4],[1,5.2],[3.2,7.8],[1.6,5.4],[3.8,8.2],[1.8,5.2],[4.4,8.4],[2.4,5.2],[4.8,8.4],[2.6,5],[5.6,8.8],[3,5.2],[5.8,8.6],[3.2,4.8],[6.6,8.6],[3.6,5],[7,8.8],[3.8,4.6],[7.6,9],[4.2,5],[8,8.6],[4.6,5],[8.4,8.8],[4.8,4.6],[8.8,8.6],[5,4.6],[9,8.8],[5.2,4.4],[9.4,8.4],[5.4,4.4],[9.6,8],[5.6,4.2],[10,8.2],[5.8,4],[10.4,7.6],[6,4],[10.8,7.8],[6.2,3.8],[10.6,7],[6.4,3.6],[11,6.8],[6.6,3.4],[11.2,6.2],[6.8,3.2],[10.8,5.8],[7,3],[12,5.4],[7.2,2.8],[12.6,5.2],[7.4,2.6],[13.6,4.8],[7.6,2.4],[14.4,4.4],[8,2.4],[14.8,4.2],[8.2,2.2],[15,3.8],[8.4,2],[13.8,3.6],[8.6,1.8],[15.4,3.2],[9,1.6],[14.6,2.9],[9,1.2],[15,2.4],[9.2,1],[13,2],[9.4,.8],[14,1.4],[9.6,.5],[15,1],[9.8,.2],[13.8,.8],[10,0],[15,.4],[10,-.4],[14.2,.2],[10.2,-.8],[14.8,-.2],[10.4,-1],[13.2,-.5],[10.4,-1.3],[14.4,-.9],[10.6,-1.6],[15.6,-1.2],[11,-1.8],[16.4,-1.3],[11.4,-1.9],[16.6,-1.7],[11.6,-2],[15,-2],[11,-2.4],[16,-2.4],[11.4,-2.5],[16.6,-2.7],[11,-2.7],[15.4,-2.9],[10.4,-3],[17,-3],[10.8,-3.3],[16.4,-3.4],[10,-3.5],[15,-3.6],[9.6,-3.7],[14,-4],[8.6,-4.1],[14.6,-4.3],[8,-4.4],[12,-4.6],[7,-4.6],[11,-4.8],[6.4,-4.8],[9,-4.9],[5.4,-4.9],[8,-5.2],[3.6,-5.3],[6.4,-5.2],[2.6,-5.3],[5,-5.6],[1,-5.3],[3.4,-5.6],[-1,-5.1],[2,-5.7],[-1.6,-5],[.8,-5.4],[-3,-4.7],[-.4,-5.3],[-4.4,-4.6],[-2.6,-5],[-6,-4.2],[-4.4,-4.9],[-7,-4.1],[-5,-4.3],[-8.6,-3.6],[-6.4,-3.9],[-9.2,-3.6],[-8,-3.5],[-10.6,-3.4],[-9.4,-3.3],[-11,-3.7],[-10.2,-3.1],[-11.6,-3.4],[-11,-2.8],[-12.2,-3.2],[-14.4,-4.8],[-12,-1.4],[-13.6,-3.4],[-11.4,-.2],[-12.6,-1.6]];
const fanB6 = [[-6,0],[6,3],[12.8,4.2],[6.6,2.6],[11.8,3.8],[6.8,2.4],[12.4,3.4],[7,2],[11.6,3],[7.4,2],[12.8,2.8],[7.2,1.6],[11.2,2.4],[7.4,1.4],[13,1.8],[7.6,1],[12.4,1.2],[7.6,.8],[13.4,1.2],[8,.6],[11.6,.7],[7.4,.2],[12.8,.4],[7.4,-.1],[11.4,.1],[7.4,-.4],[13,-.2],[7.8,-.7],[12.6,-.8],[8,-1],[11.6,-.9],[8.4,-1.3],[14,-1.5],[10,-1.7],[13.2,-2],[10,-2.2],[14,-2.5],[10,-2.6],[13.4,-2.9],[9.6,-3],[13.8,-3.2],[9.2,-3.3],[12.4,-3.6],[8.8,-3.6],[12,-4],[7.6,-3.8],[10.6,-3.9],[6.8,-4.2],[9.4,-4.3],[6.2,-4.4],[8.4,-4.6],[5.8,-4.7],[8.4,-5],[4.8,-5],[2,5],[4.6,6.6],[2.4,4.8],[5,6.4],[3,4.4],[5.6,6.6],[3.4,4.4],[6.4,7],[4,4.2],[6.8,6.6],[4.6,4],[7.2,6.4],[5,3.6],[7.6,5.8],[5.4,3.4],[8,6],[5.6,3.2],[8.4,6.4],[6,3],[9,6.2],[6,2.6],[9.4,5],[6.2,2.4],[9.8,4.6],[6.6,2.2]];
const fanB7 = [[7,1],[10.4,1.6],[7.2,.6],[10.8,1.2],[7,.3],[10.6,.7],[7.2,0],[10.4,.4],[7,-.3],[10.8,-.1],[7.4,-.6],[11,-.5],[7.6,-.9],[10.8,-.8],[8,-1.2],[10.6,-1.2],[5.4,3],[6.8,4.6],[5.8,3.4],[7.2,4.8],[2.8,4.6],[4.2,6],[3,4.6],[4.6,5.6],[3.8,4.2],[5.2,5.4],[4.4,3.8],[5.8,5],[1,5],[2.8,6.2],[1.4,5],[3.4,6.4],[-.2,4.6],[.8,5.4],[.2,4.6],[1.4,5.8]];

function pts(list) { return list.map(p => ({ x: p[0], y: p[1] })); }
function zip(xs, ys) { return xs.map((v, i) => ({ x: v, y: ys[i] })); }
function minusSign(v) { return String(v).replace('-', '\u2212'); }
function noPadding(s) { s.paddingTop = 0; s.paddingBottom = 0; s.paddingLeft = 0; s.paddingRight = 0; }

const trajA = [].concat(fanA, coreA1, coreA2, coreA3, coreA4, peakA, rightA1, rightA2, tailA, denseA1, denseA2, denseA3, denseA4, denseA5, denseA6, denseA7, denseA8, denseA9);
const trajB = [].concat(fanB1, fanB2, fanB3, fanB4, fanB5, fanB6, fanB7);

// label placement, pixels from the marker: [dx, dy of the text centre]
const placeA = { '10 AM': [-75, -10], '4 PM': [6, 10], '11 AM': [7, 10] };
const placeB = { '6 AM': [7, 11], '7 AM': [-60, -9], '7 PM': [7, 10], '9 AM': [7, 10], '11 AM': [8, 11] };

function makePanel(id, title, areaLeft, areaRight, lineSets, names, xs, ys, place) {
    const labelsPlugin = {
        id: 'hourLabels',
        afterDatasetsDraw(chart) {
            const c = chart.ctx, area = chart.chartArea;
            c.save();
            // frame
            c.strokeStyle = '#444';
            c.lineWidth = 1;
            c.strokeRect(area.left, area.top, area.right - area.left, area.bottom - area.top);
            c.fillStyle = '#DC143C';
            c.font = '21.5px "DejaVu Sans"';
            c.textBaseline = 'middle';
            names.forEach((name, i) => {
                const off = place[name] || [7, -6];
                c.fillText(name, chart.scales.x.getPixelForValue(xs[i]) + off[0], chart.scales.y.getPixelForValue(ys[i]) + off[1]);
            });
            c.fillStyle = '#111';
            c.font = '41px "Liberation Sans"';
            c.textBaseline = 'alphabetic';
            c.fillText(title, area.left + 8, 50);
            c.restore();
        }
    };

    new Chart(document.getElementById(id), {
        type: 'scatter',
        data: {
            datasets: lineSets.concat([{
                data: zip(xs, ys),
                order: -1,
                showLine: false,
                pointRadius: 4.8,
                pointBackgroundColor: '#DC143C',
                pointBorderWidth: 0
            }])
        },
        options: {
            responsive: false,
            animation: false,
            layout: { autoPadding: false, padding: { left: 0, right: 785 - areaRight, top: 6.5, bottom: 0 } },
            plugins: { legend: { display: false }, tooltip: { enabled: false } },
            scales: {
                x: {
                    type: 'linear', min: -20.98, max: 31.47,
                    afterBuildTicks: s => { s.ticks = xTicks.map(v => ({ value: v })); },
                    afterFit: s => { s.height = 38.7; noPadding(s); },
                    grid: { color: '#b8b8b8', lineWidth: 1, tickLength: 5, tickColor: '#333' },
                    border: { display: false },
                    ticks: { color: '#000', font: { family: 'DejaVu Sans', size: 26 }, padding: 3, maxRotation: 0, autoSkip: false, callback: minusSign }
                },
                y: {
                    type: 'linear', min: -7.99, max: 12.02,
                    afterBuildTicks: s => { s.ticks = yTicks.map(v => ({ value: v })); },
                    afterFit: s => { s.width = areaLeft; noPadding(s); },
                    grid: { color: '#b8b8b8', lineWidth: 1, tickLength: 5, tickColor: '#333' },
                    border: { display: false },
                    ticks: { color: '#000', font: { family: 'DejaVu Sans', size: 26 }, padding: 4, autoSkip: false, callback: minusSign }
                }
            }
        },
        plugins: [labelsPlugin]
    });
}

makePanel('panelA', '(a)', 52.5, 739.5, [{
    data: pts(trajA), showLine: true, pointRadius: 0, borderColor: '#00BFFF', borderWidth: 1.5, tension: 0.35, fill: false
}], hoursA, hoursAx, hoursAy, placeA);

makePanel('panelB', '(b)', 92.3, 779.3, [{
    data: pts(massB), showLine: true, pointRadius: 0, borderColor: '#00BFFF', borderWidth: 1, backgroundColor: '#00BFFF', tension: 0, fill: 'shape'
}, {
    data: pts(trajB), showLine: true, pointRadius: 0, borderColor: '#00BFFF', borderWidth: 1.5, tension: 0, fill: false
}], hoursB, hoursBx, hoursBy, placeB);
</script>
</body>
</html>
